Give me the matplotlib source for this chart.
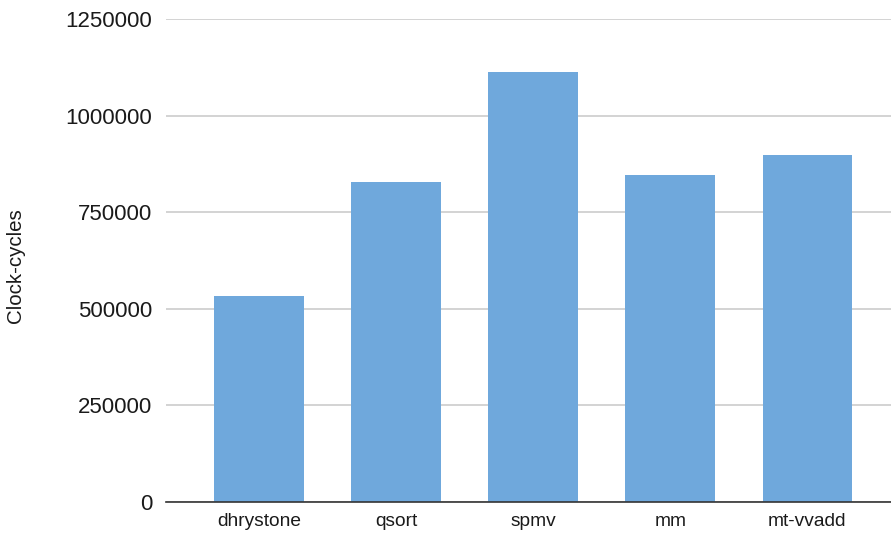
import matplotlib
matplotlib.use("Agg")
import matplotlib.pyplot as plt

categories = ["dhrystone", "qsort", "spmv", "mm", "mt-vvadd"]
cycles = [533000, 827000, 1112000, 847000, 898000]
yticks = [0, 250000, 500000, 750000, 1000000, 1250000]

plt.rcParams["font.family"] = ["Liberation Sans", "DejaVu Sans"]

fig = plt.figure(figsize=(8.91, 5.35), dpi=100)
ax = fig.add_axes([166 / 891, 1 - 502 / 535, 1 - 166 / 891, (502 - 19) / 535])

x = list(range(len(categories)))
ax.bar(x, cycles, width=0.655, color="#6fa8dc", zorder=3)

ax.set_xlim(-0.68, 4.61)
ax.set_ylim(0, 1250000)
ax.set_yticks(yticks)
ax.set_yticklabels([str(v) for v in yticks], fontsize=16, color="#1a1a1a")
ax.set_xticks(x)
ax.set_xticklabels(categories, fontsize=13.8, color="#1a1a1a")
ax.tick_params(axis="both", length=0)
ax.tick_params(axis="y", pad=10)
ax.tick_params(axis="x", pad=8)

ax.grid(axis="y", color="#d0d0d0", linewidth=1.3, zorder=0)
for side in ["top", "right", "left"]:
    ax.spines[side].set_visible(False)
ax.spines["bottom"].set_color("#333333")
ax.spines["bottom"].set_linewidth(1.2)
ax.spines["bottom"].set_zorder(4)

ax.set_ylabel("Clock-cycles", fontsize=14.8, color="#1a1a1a")
ax.yaxis.set_label_coords(-0.1945, 0.49)

fig.savefig("out.png", dpi=100)
